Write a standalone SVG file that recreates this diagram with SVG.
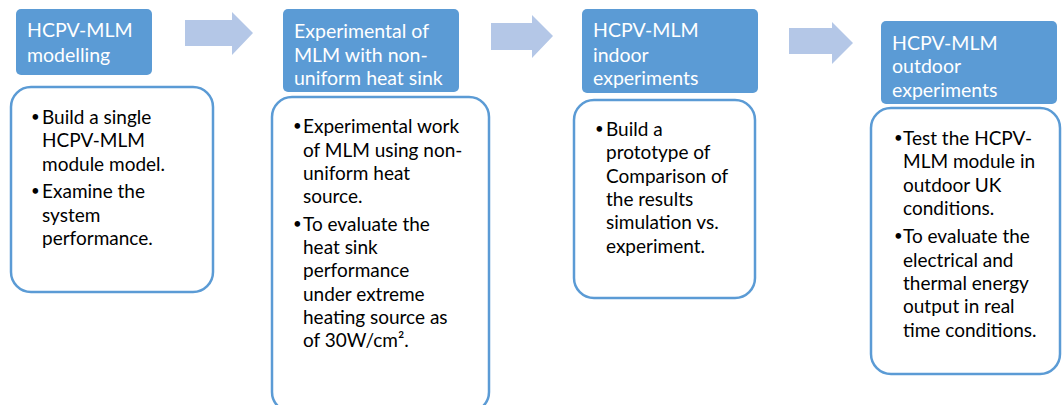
<svg xmlns="http://www.w3.org/2000/svg" width="1062" height="405" viewBox="0 0 1062 405">
<style>
.hdr{fill:#5b9bd5}
.ht{fill:#ffffff;font-family:Lato,"Liberation Sans",sans-serif;font-size:19.5px}
.body{fill:#ffffff;stroke:#5b9bd5;stroke-width:2.5}
.bt{fill:#000000;font-family:Lato,"Liberation Sans",sans-serif;font-size:19px}
.bl{fill:#000000;font-family:Lato,"Liberation Sans",sans-serif;font-size:15px}
.arr{fill:#b4c7e7}
</style>
<rect width="1062" height="405" fill="#ffffff"/>
<g id="connectors">
<polygon class="arr" points="185,20 232,20 232,12 253,33 232,55 232,46 185,46"/>
<polygon class="arr" points="491,23 532,23 532,15 553,36 532,58 532,50 491,50"/>
<polygon class="arr" points="789,28 832,28 832,22 853,43 832,64 832,54 789,54"/>
</g>
<g id="step1">
<rect class="hdr" x="16" y="9" width="136" height="66" rx="5"/>
<text class="ht"><tspan x="27" y="37">HCPV-MLM</tspan><tspan x="27" y="62">modelling</tspan></text>
<rect class="body" x="11" y="87" width="202" height="205" rx="20"/>
<text class="bl"><tspan x="31" y="122">•</tspan><tspan x="31" y="196">•</tspan></text>
<text class="bt"><tspan x="42" y="124">Build a single</tspan><tspan x="42" y="147">HCPV-MLM</tspan><tspan x="42" y="171">module model.</tspan><tspan x="42" y="198">Examine the</tspan><tspan x="42" y="222">system</tspan><tspan x="42" y="245">performance.</tspan></text>
</g>
<g id="step2">
<rect class="hdr" x="283" y="9" width="176" height="83" rx="5"/>
<text class="ht"><tspan x="294" y="38">Experimental of</tspan><tspan x="294" y="62">MLM with non-</tspan><tspan x="294" y="85">uniform heat sink</tspan></text>
<rect class="body" x="272" y="97" width="217" height="315" rx="20"/>
<text class="bl"><tspan x="293" y="131">•</tspan><tspan x="293" y="229">•</tspan></text>
<text class="bt"><tspan x="303" y="133">Experimental work</tspan><tspan x="303" y="157">of MLM using non-</tspan><tspan x="303" y="180">uniform heat</tspan><tspan x="303" y="203">source.</tspan><tspan x="303" y="231">To evaluate the</tspan><tspan x="303" y="254">heat sink</tspan><tspan x="303" y="277">performance</tspan><tspan x="303" y="301">under extreme</tspan><tspan x="303" y="324">heating source as</tspan><tspan x="303" y="347">of 30W/cm².</tspan></text>
</g>
<g id="step3">
<rect class="hdr" x="582" y="9" width="176" height="84" rx="5"/>
<text class="ht"><tspan x="593" y="37">HCPV-MLM</tspan><tspan x="593" y="62">indoor</tspan><tspan x="593" y="85">experiments</tspan></text>
<rect class="body" x="574" y="100" width="181" height="198" rx="20"/>
<text class="bl"><tspan x="595" y="134">•</tspan></text>
<text class="bt"><tspan x="606" y="136">Build a</tspan><tspan x="606" y="159">prototype of</tspan><tspan x="606" y="183">Comparison of</tspan><tspan x="606" y="206">the results</tspan><tspan x="606" y="229">simulation vs.</tspan><tspan x="606" y="253">experiment.</tspan></text>
</g>
<g id="step4">
<rect class="hdr" x="881" y="21" width="176" height="83" rx="5"/>
<text class="ht"><tspan x="892" y="50">HCPV-MLM</tspan><tspan x="892" y="73">outdoor</tspan><tspan x="892" y="97">experiments</tspan></text>
<rect class="body" x="871" y="108" width="189" height="266" rx="20"/>
<text class="bl"><tspan x="894" y="143">•</tspan><tspan x="894" y="241">•</tspan></text>
<text class="bt"><tspan x="903" y="145">Test the HCPV-</tspan><tspan x="903" y="168">MLM module in</tspan><tspan x="903" y="192">outdoor UK</tspan><tspan x="903" y="215">conditions.</tspan><tspan x="903" y="243">To evaluate the</tspan><tspan x="903" y="267">electrical and</tspan><tspan x="903" y="290">thermal energy</tspan><tspan x="903" y="313">output in real</tspan><tspan x="903" y="337">time conditions.</tspan></text>
</g>
</svg>
